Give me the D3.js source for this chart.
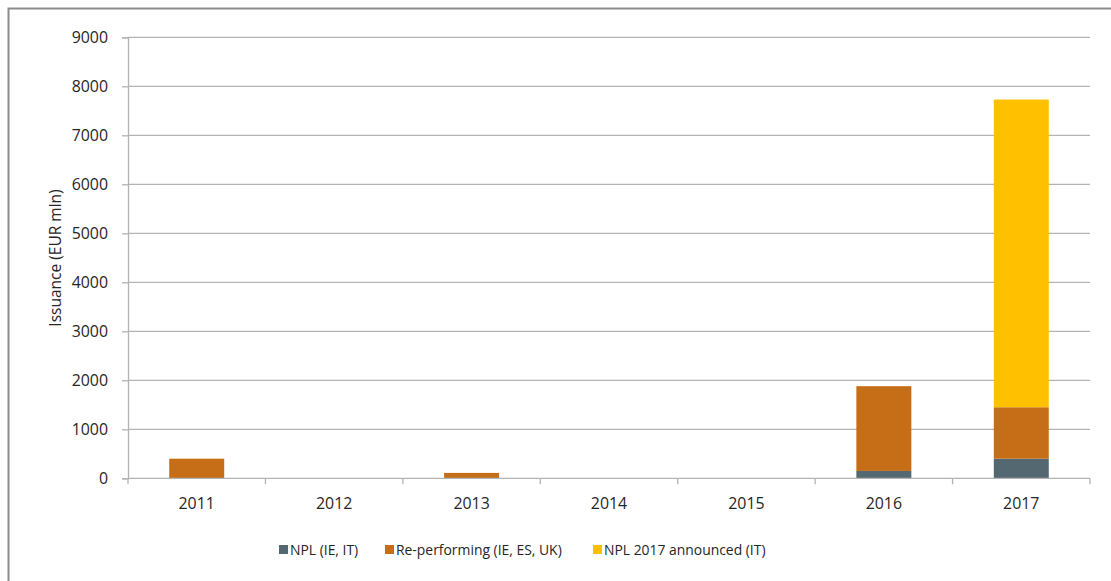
<!DOCTYPE html>
<html><head><meta charset="utf-8">
<script src="https://cdn.jsdelivr.net/npm/d3@7"></script>
<style>body{margin:0;background:#fff}svg{display:block}text{font-family:"Open Sans","Liberation Sans",sans-serif;fill:#262626}</style>
</head><body>
<svg id="c" width="1111" height="581"></svg>
<script>
const years = ["2011","2012","2013","2014","2015","2016","2017"];
const npl = [0,0,0,0,0,150,400];
const reperf = [400,0,110,0,0,1730,1050];
const announced = [0,0,0,0,0,0,6280];
const seriesNames = ["NPL (IE, IT)","Re-performing (IE, ES, UK)","NPL 2017 announced (IT)"];
const colors = ["#536870","#C56D17","#FFC000"];
const yTicks = [0,1000,2000,3000,4000,5000,6000,7000,8000,9000];

const svg = d3.select("#c");
svg.append("rect").attr("x",8.5).attr("y",8.5).attr("width",1120).attr("height",600)
  .attr("fill","none").attr("stroke","#8c8c8c").attr("stroke-width",2);

const L=128,R=1090,T=37.3,B=478.3;
const x = d3.scaleBand().domain(years).range([L,R]).paddingInner(0.6).paddingOuter(0.3);
const y = d3.scaleLinear().domain([0,9000]).range([B,T]);

svg.append("g").selectAll("line").data(yTicks.filter(d=>d>0)).join("line")
  .attr("x1",L).attr("x2",R).attr("y1",d=>y(d)).attr("y2",d=>y(d))
  .attr("stroke","#b3b3b3").attr("stroke-width",1.3);

const rows = years.map((yr,i)=>({year:yr,npl:npl[i],reperf:reperf[i],announced:announced[i]}));
const stack = d3.stack().keys(["npl","reperf","announced"])(rows);
svg.append("g").selectAll("g").data(stack).join("g").attr("fill",(d,i)=>colors[i])
  .selectAll("rect").data(d=>d).join("rect")
  .attr("x",d=>x(d.data.year)).attr("width",x.bandwidth())
  .attr("y",d=>y(d[1])).attr("height",d=>y(d[0])-y(d[1]));

const ya = svg.append("g").attr("transform",`translate(${L},0)`)
  .call(d3.axisLeft(y).tickValues(yTicks).tickSize(6).tickPadding(14).tickFormat(d3.format("d")));
ya.select(".domain").attr("stroke","#b3b3b3").attr("stroke-width",1.3);
ya.selectAll(".tick line").attr("stroke","#b3b3b3").attr("stroke-width",1.3);
ya.selectAll("text").attr("font-size",15.9).style("font-family","'Open Sans',sans-serif").attr("fill","#262626");

const xs = d3.scaleLinear().domain([0,7]).range([L,R]);
const xg = svg.append("g");
xg.append("line").attr("x1",L).attr("x2",R).attr("y1",B).attr("y2",B).attr("stroke","#b3b3b3").attr("stroke-width",1.3);
xg.selectAll("line.t").data(d3.range(8)).join("line").attr("class","t")
  .attr("x1",d=>xs(d)).attr("x2",d=>xs(d)).attr("y1",B).attr("y2",B+6)
  .attr("stroke","#b3b3b3").attr("stroke-width",1.3);
xg.selectAll("text").data(years).join("text")
  .attr("x",d=>x(d)+x.bandwidth()/2).attr("y",509).attr("text-anchor","middle")
  .attr("font-size",15.9).text(d=>d);

svg.append("text").attr("transform","translate(61,258) rotate(-90)").attr("text-anchor","middle")
  .attr("font-size",15.5).text("Issuance (EUR mln)");

const legX = [279,385,593];
const lg = svg.append("g").selectAll("g").data(seriesNames).join("g")
  .attr("transform",(d,i)=>`translate(${legX[i]},545)`);
lg.append("rect").attr("width",9).attr("height",9).attr("fill",(d,i)=>colors[i]);
lg.append("text").attr("x",11).attr("y",10).attr("font-size",13.9).text(d=>d);
</script>
</body></html>
